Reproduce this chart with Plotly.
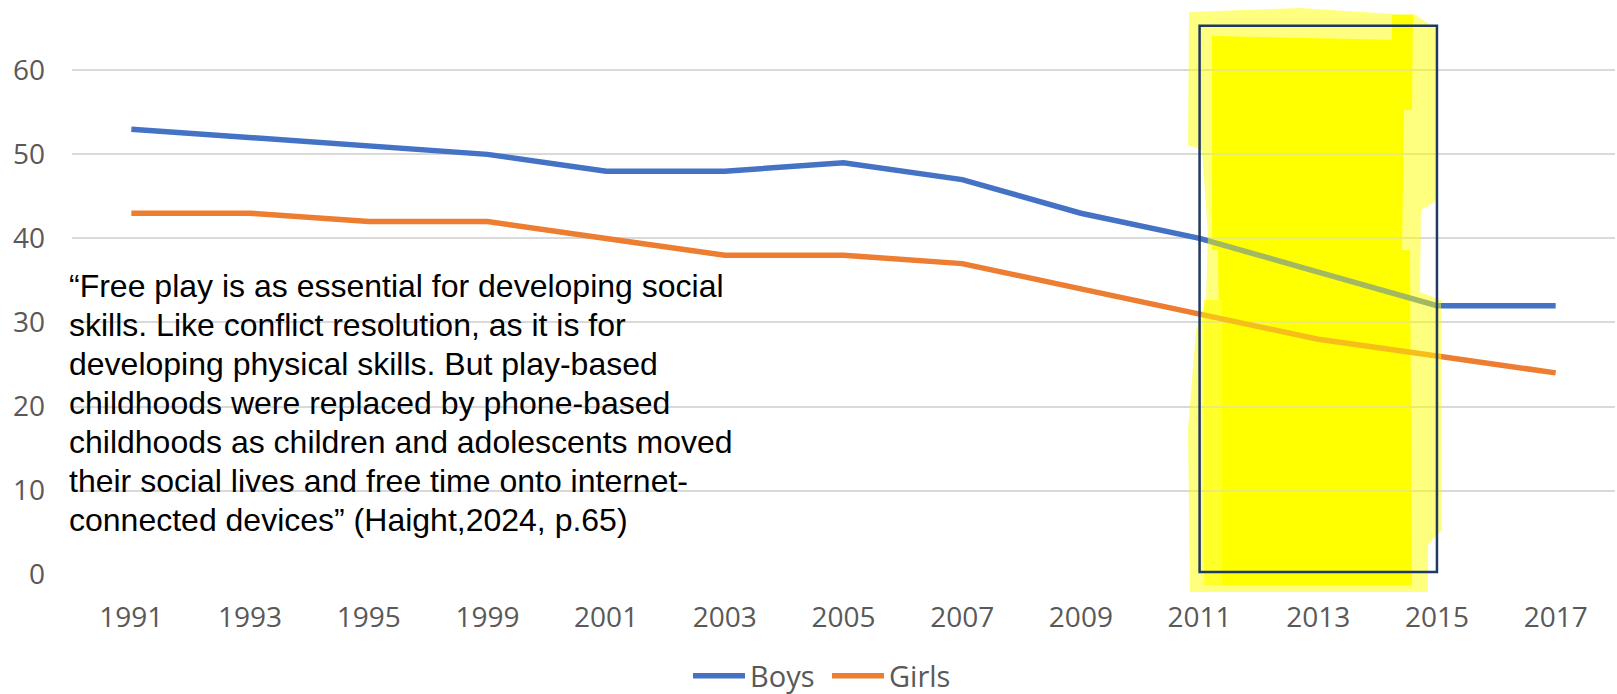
import plotly.graph_objects as go

years = ["1991", "1993", "1995", "1999", "2001", "2003", "2005", "2007",
         "2009", "2011", "2013", "2015", "2017"]
boys = [53, 52, 51, 50, 48, 48, 49, 47, 43, 40, 36, 32, 32]
girls = [43, 43, 42, 42, 40, 38, 38, 37, 34, 31, 28, 26, 24]

quote_lines = [
    "\u201cFree play is as essential for developing social",
    "skills. Like conflict resolution, as it is for",
    "developing physical skills. But play-based",
    "childhoods were replaced by phone-based",
    "childhoods as children and adolescents moved",
    "their social lives and free time onto internet-",
    "connected devices\u201d (Haight,2024, p.65)",
]

W, H = 1617, 694
ML, MR, MT, MB = 72, 2, 0, 119
PLOT_H = H - MT - MB
PLOT_W = W - ML - MR
N = len(years)


def px_x(px):
    # pixel -> category index position
    return (px - ML) / PLOT_W * N - 0.5


def px_y(py):
    # pixel -> paper fraction
    return 1 - (py - MT) / PLOT_H


fig = go.Figure()
fig.add_trace(go.Scatter(x=years, y=boys, mode="lines", name="Boys",
                         line=dict(color="#4472C4", width=5.5)))
fig.add_trace(go.Scatter(x=years, y=girls, mode="lines", name="Girls",
                         line=dict(color="#ED7D31", width=5.5)))

shapes = []


def poly(points, fill, layer, opacity=1.0):
    d = "M " + " L ".join(f"{px_x(x):.4f},{px_y(y):.4f}" for x, y in points) + " Z"
    return dict(type="path", path=d, xref="x", yref="paper", fillcolor=fill,
                line=dict(width=0), layer=layer, opacity=opacity)


# highlighter outline region (light)
light = [(1189, 12), (1300, 8), (1395, 14), (1414, 14), (1438, 30), (1438, 200),
         (1421, 210), (1420, 292), (1441, 300), (1442, 530), (1428, 545),
         (1428, 592), (1190, 592), (1188, 430), (1196, 330), (1206, 300),
         (1208, 235), (1202, 150), (1188, 145)]
# bright cores (below layer)
cores = [
    [(1212, 36), (1405, 40), (1402, 250), (1212, 250)],
    [(1218, 250), (1410, 250), (1412, 585), (1222, 585)],
    [(1392, 15), (1413, 15), (1412, 110), (1392, 110)],
    [(1226, 140), (1245, 140), (1245, 560), (1226, 560)],
]
for c in cores:
    shapes.append(poly(c, "#FFFF00", "below"))
shapes.append(poly([(1204, 300), (1222, 300), (1222, 585), (1204, 585)], "#FFFF55", "below"))
# translucent highlighter on top
shapes.append(poly(light, "#FFFF00", "above", opacity=0.5))

# dark rectangle frame
shapes.append(dict(type="rect", xref="x", yref="y", x0=9, x1=11, y0=0.3, y1=65.3,
                   line=dict(color="#1F3864", width=2.5), fillcolor="rgba(0,0,0,0)",
                   layer="above"))

annotations = []
for k, t in enumerate(quote_lines):
    annotations.append(dict(text=t, xref="paper", yref="paper",
                            x=(67 - ML) / PLOT_W, y=px_y(286 + 39 * k),
                            xanchor="left", yanchor="middle", showarrow=False,
                            align="left",
                            font=dict(family="Liberation Sans, Arial", size=32,
                                      color="#000000")))

fig.update_layout(
    width=W, height=H,
    margin=dict(l=ML, r=MR, t=MT, b=MB, pad=0, autoexpand=False),
    paper_bgcolor="white", plot_bgcolor="rgba(0,0,0,0)",
    font=dict(family="Open Sans", size=28, color="#595959"),
    showlegend=True,
    legend=dict(orientation="h", x=(688 - ML) / PLOT_W, y=px_y(676),
                xanchor="left", yanchor="middle",
                font=dict(family="Open Sans", size=29, color="#595959"),
                itemwidth=52, entrywidth=72, borderwidth=0,
                bgcolor="rgba(0,0,0,0)"),
    xaxis=dict(type="category", categoryorder="array", categoryarray=years,
               range=[-0.5, N - 0.5], showgrid=False, zeroline=False,
               showline=False, ticks="", ticklabelstandoff=23,
               tickfont=dict(family="Open Sans", size=28, color="#595959")),
    yaxis=dict(range=[-0.05, 68.37], dtick=10, tick0=0, showgrid=True,
               gridcolor="#D9D9D9", gridwidth=2, zeroline=False, showline=False,
               ticks="", ticklabelstandoff=26,
               tickfont=dict(family="Open Sans", size=28, color="#595959")),
    shapes=shapes,
    annotations=annotations,
)

fig.write_html("out.html")
